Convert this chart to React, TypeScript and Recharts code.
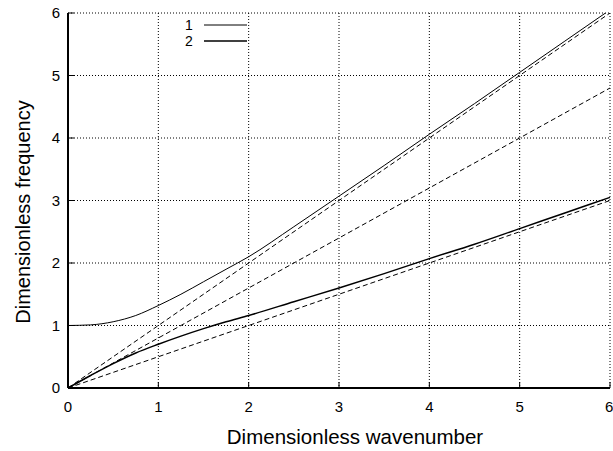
import { LineChart, Line, XAxis, YAxis, CartesianGrid, Label } from 'recharts';

const FONT = '"Liberation Sans", Arial, sans-serif';

// wavenumber samples for the two dispersion branches
const k = [0, 0.25, 0.5, 0.75, 1, 1.25, 1.5, 1.75, 2, 2.5, 3, 3.5, 4, 4.5, 5, 5.5, 6];
const branch1 = [1.0, 1.01, 1.06, 1.16, 1.32, 1.5, 1.7, 1.9, 2.1, 2.58, 3.07, 3.56, 4.06, 4.55, 5.05, 5.55, 6.05];
const branch2 = [0, 0.2, 0.39, 0.56, 0.7, 0.83, 0.95, 1.06, 1.16, 1.38, 1.6, 1.83, 2.07, 2.3, 2.55, 2.8, 3.05];

// dashed asymptotes (end points)
const asymK = [0, 6];
const asymA = [0, 6];
const asymB = [0, 4.8];
const asymC = [0, 3.0];

const ticks = [0, 1, 2, 3, 4, 5, 6];
const legendLabels = ['1', '2'];

const curve1 = k.map((x, i) => ({ k: x, v: branch1[i] }));
const curve2 = k.map((x, i) => ({ k: x, v: branch2[i] }));
const dashA = asymK.map((x, i) => ({ k: x, v: asymA[i] }));
const dashB = asymK.map((x, i) => ({ k: x, v: asymB[i] }));
const dashC = asymK.map((x, i) => ({ k: x, v: asymC[i] }));

function LegendBox() {
  return (
    <svg width={70} height={36} style={{ position: 'absolute', left: 180, top: 16 }}>
      <text x={9} y={14} fontSize={14} fontFamily={FONT} textAnchor="middle">{legendLabels[0]}</text>
      <line x1={24} x2={67} y1={9} y2={9} stroke="#000" strokeWidth={1} />
      <text x={9} y={30} fontSize={14} fontFamily={FONT} textAnchor="middle">{legendLabels[1]}</text>
      <line x1={24} x2={67} y1={25} y2={25} stroke="#000" strokeWidth={1.4} />
    </svg>
  );
}

export default function App() {
  return (
    <div style={{ position: 'absolute', left: 0, top: 0, width: 613, height: 451, background: '#fff' }}>
      <LineChart width={613} height={451} margin={{ top: 13, right: 3, bottom: 0, left: 0 }}>
        <CartesianGrid stroke="#000" strokeDasharray="1 2" strokeWidth={1} />
        <XAxis
          dataKey="k"
          type="number"
          domain={[0, 6]}
          ticks={ticks}
          height={63}
          tickSize={-6}
          tickMargin={19}
          axisLine={{ stroke: '#000', strokeWidth: 2 }}
          tickLine={{ stroke: '#000' }}
          tick={{ fill: '#000', fontSize: 15, fontFamily: FONT }}
        >
          <Label
            content={() => (
              <text x={355} y={444} textAnchor="middle" fontSize={20.5} fontFamily={FONT} fill="#000">
                Dimensionless wavenumber
              </text>
            )}
          />
        </XAxis>
        <XAxis
          xAxisId="t"
          orientation="top"
          dataKey="k"
          type="number"
          domain={[0, 6]}
          ticks={ticks}
          height={0}
          tickSize={-6}
          tickFormatter={() => ''}
          axisLine={{ stroke: '#000', strokeWidth: 2 }}
          tickLine={{ stroke: '#000' }}
        />
        <YAxis
          type="number"
          domain={[0, 6]}
          ticks={ticks}
          allowDataOverflow
          width={68}
          tickSize={-6}
          tickMargin={14}
          axisLine={{ stroke: '#000', strokeWidth: 2 }}
          tickLine={{ stroke: '#000' }}
          tick={{ fill: '#000', fontSize: 15, fontFamily: FONT }}
        >
          <Label
            content={() => (
              <text
                x={30}
                y={212}
                transform="rotate(-90 30 212)"
                textAnchor="middle"
                fontSize={20}
                fontFamily={FONT}
                fill="#000"
              >
                Dimensionless frequency
              </text>
            )}
          />
        </YAxis>
        <YAxis
          yAxisId="r"
          orientation="right"
          type="number"
          domain={[0, 6]}
          ticks={ticks}
          width={0}
          tickSize={-6}
          tickFormatter={() => ''}
          axisLine={{ stroke: '#000', strokeWidth: 2 }}
          tickLine={{ stroke: '#000' }}
        />
        <Line data={dashA} dataKey="v" type="linear" stroke="#000" strokeWidth={1} strokeDasharray="5 3" dot={false} isAnimationActive={false} />
        <Line data={dashB} dataKey="v" type="linear" stroke="#000" strokeWidth={1} strokeDasharray="5 3" dot={false} isAnimationActive={false} />
        <Line data={dashC} dataKey="v" type="linear" stroke="#000" strokeWidth={1} strokeDasharray="5 3" dot={false} isAnimationActive={false} />
        <Line data={curve1} dataKey="v" name="1" type="monotone" stroke="#000" strokeWidth={1} dot={false} isAnimationActive={false} />
        <Line data={curve2} dataKey="v" name="2" type="monotone" stroke="#000" strokeWidth={1.5} dot={false} isAnimationActive={false} />
      </LineChart>
      <LegendBox />
    </div>
  );
}
